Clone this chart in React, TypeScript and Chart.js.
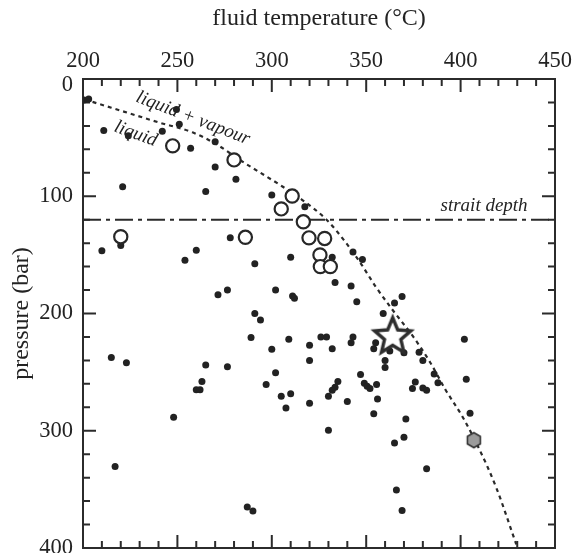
import React, { useEffect, useRef } from "react";
import { Chart, registerables } from "chart.js";
Chart.register(...registerables);

const FONT = '"Liberation Serif", "Times New Roman", serif';
const INK = "#232323";

// small black dots: temperature (°C) / pressure (bar)
const dotT = [200.5, 203, 211, 224, 221, 242, 249.5, 251, 257, 270, 270, 281, 265, 300, 317.5,
  210, 220, 254, 260, 278, 291, 310, 271.5, 276.5, 302, 311, 312, 343, 348, 332, 333.5, 342,
  345, 369, 365, 359, 294, 291, 309, 326, 329, 343, 320, 320, 332, 342, 354, 355, 362.5, 370,
  378, 380, 360, 360, 386, 388, 402, 403, 405, 347, 349, 350.5, 352, 355.5, 335, 333.5, 332, 330,
  305, 310, 307.5, 320, 340, 356, 354, 374.5, 376, 380, 382, 330, 371, 370, 365, 382, 366, 369,
  300, 302, 297, 215, 223, 248, 217, 260, 262, 263, 265, 276.5, 289, 287, 290];
const dotP = [18, 17, 44, 48.5, 92, 44.5, 26, 38.5, 59, 53.5, 75, 85.5, 96, 99, 109,
  146.5, 142, 154.5, 146, 135.5, 157.5, 152, 184, 180, 180, 185, 187, 147.5, 154, 152, 173.5, 176.5,
  190, 185.5, 191, 200, 205.5, 200, 222, 220, 220, 220, 227, 240, 230, 225, 230, 225, 232, 233.5,
  233, 240, 240, 246, 251.5, 259, 222, 256, 285, 252, 259.5, 262, 264, 260.5, 258, 263, 265.5, 270.5,
  270.5, 268.5, 280.5, 276.5, 275, 273, 285.5, 264, 258.5, 263.5, 265.5, 299.5, 290, 305.5, 310.5, 332.5, 350.5, 368,
  230.5, 250.5, 260.5, 237.5, 242, 288.5, 330.5, 265, 265, 258, 244, 245.5, 220.5, 365, 368.5];

// open circles
const circT = [247.5, 280, 310.8, 305, 316.7, 220, 286, 319.7, 328, 325.5, 325.7, 331];
const circP = [57, 69, 99.8, 110.8, 121.8, 134.5, 135, 135.5, 136, 150, 160, 160];

// star and hexagon
const starT = [364];
const starP = [219];
const hexT = [407];
const hexP = [308];

// boiling curve (liquid / liquid + vapour boundary)
const curveT = [201, 215, 228, 240, 258, 271, 283, 294, 304, 316, 329, 338, 347, 355, 364, 375, 384, 392, 401, 410, 419, 429.5];
const curveP = [17.5, 24.5, 31, 37, 45.5, 56, 69, 80, 90, 103, 120, 137, 157, 177, 197, 220, 242, 265, 288, 316, 349, 397];

// strait depth line
const straitT = [200, 450];
const straitP = [120, 120];

// x/y tick label values
const xTicks = [200, 250, 300, 350, 400, 450];
const yTicks = [0, 100, 200, 300, 400];

const notes = [
  { text: "liquid + vapour", t: 258.3, p: 33.5, angle: 21, align: "center" },
  { text: "liquid", t: 227.9, p: 46.9, angle: 20, align: "center" },
  { text: "strait depth", t: 435.5, p: 112.5, angle: 0, align: "right" },
];

const zip = (a: number[], b: number[]) => a.map((v, i) => ({ x: v, y: b[i] }));

function makeStar(): HTMLCanvasElement {
  const c = document.createElement("canvas");
  c.width = 48; c.height = 48;
  const g = c.getContext("2d")!;
  const R = 19, r = 8.6, cx = 24, cy = 25;
  g.beginPath();
  for (let i = 0; i < 10; i++) {
    const rad = i % 2 === 0 ? R : r;
    const a = -Math.PI / 2 + (i * Math.PI) / 5;
    const x = cx + rad * Math.cos(a), y = cy + rad * Math.sin(a);
    if (i === 0) g.moveTo(x, y); else g.lineTo(x, y);
  }
  g.closePath();
  g.fillStyle = "#ffffff";
  g.fill();
  g.lineWidth = 3.4;
  g.lineJoin = "miter";
  g.strokeStyle = "#2e2e2e";
  g.stroke();
  return c;
}

function makeHex(): HTMLCanvasElement {
  const c = document.createElement("canvas");
  c.width = 20; c.height = 20;
  const g = c.getContext("2d")!;
  g.beginPath();
  for (let i = 0; i < 6; i++) {
    const a = -Math.PI / 2 + (i * Math.PI) / 3;
    const x = 10 + 7.5 * Math.cos(a), y = 10 + 7.5 * Math.sin(a);
    if (i === 0) g.moveTo(x, y); else g.lineTo(x, y);
  }
  g.closePath();
  g.fillStyle = "#9b9b9b";
  g.fill();
  g.lineWidth = 1.6;
  g.strokeStyle = "#333333";
  g.stroke();
  return c;
}

const framePlugin = {
  id: "frame",
  beforeDatasetsDraw(chart: any) {
    const { ctx, chartArea: a, scales } = chart;
    const xs = scales.x, ys = scales.y;
    ctx.save();
    ctx.strokeStyle = "#2b2b2b";
    ctx.lineWidth = 2;
    ctx.strokeRect(a.left, a.top, a.right - a.left, a.bottom - a.top);
    ctx.beginPath();
    for (let t = 200; t <= 450; t += 10) {
      const px = xs.getPixelForValue(t);
      const len = t % 50 === 0 ? 13 : 7;
      ctx.moveTo(px, a.top); ctx.lineTo(px, a.top + len);
      ctx.moveTo(px, a.bottom); ctx.lineTo(px, a.bottom - len);
    }
    for (let p = 0; p <= 400; p += 20) {
      const py = ys.getPixelForValue(p);
      const len = p % 100 === 0 ? 13 : 7;
      ctx.moveTo(a.left, py); ctx.lineTo(a.left + len, py);
      ctx.moveTo(a.right, py); ctx.lineTo(a.right - len, py);
    }
    ctx.stroke();
    ctx.fillStyle = INK;
    ctx.font = `italic 19px ${FONT}`;
    for (const n of notes) {
      const px = xs.getPixelForValue(n.t), py = ys.getPixelForValue(n.p);
      ctx.save();
      ctx.translate(px, py);
      ctx.rotate((n.angle * Math.PI) / 180);
      ctx.textAlign = n.align as CanvasTextAlign;
      ctx.textBaseline = n.align === "right" ? "alphabetic" : "middle";
      ctx.fillText(n.text, 0, 0);
      ctx.restore();
    }
    ctx.restore();
  },
};

export default function App() {
  const ref = useRef<HTMLCanvasElement>(null);
  useEffect(() => {
    document.body.style.margin = "0";
    const star = makeStar();
    const hex = makeHex();
    const chart = new Chart(ref.current!, {
      type: "scatter",
      data: {
        datasets: [
          {
            label: "star", data: zip(starT, starP), pointStyle: star as any, pointRadius: 20,
            order: 0,
          },
          {
            label: "hex", data: zip(hexT, hexP), pointStyle: hex as any, pointRadius: 8, order: 1,
          },
          {
            label: "circles", data: zip(circT, circP), pointStyle: "circle", pointRadius: 6.6,
            pointBorderWidth: 2.2, pointBorderColor: "#272727", pointBackgroundColor: "#ffffff", order: 2,
          },
          {
            label: "dots", data: zip(dotT, dotP), pointStyle: "circle", pointRadius: 3.5,
            pointBorderWidth: 0, pointBackgroundColor: "#222222", order: 3,
          },
          {
            label: "curve", type: "line" as any, data: zip(curveT, curveP), showLine: true,
            borderColor: "#2a2a2a", borderWidth: 2.2, borderDash: [4, 4], pointRadius: 0,
            cubicInterpolationMode: "monotone", fill: false, order: 4,
          },
          {
            label: "strait", type: "line" as any, data: zip(straitT, straitP), showLine: true,
            borderColor: "#2a2a2a", borderWidth: 2, borderDash: [18, 5, 4, 5], pointRadius: 0,
            fill: false, order: 5,
          },
        ],
      },
      options: {
        animation: false,
        responsive: false,
        devicePixelRatio: 1,
        layout: { autoPadding: false, padding: { top: 0, left: 0, right: 18, bottom: 5 } },
        plugins: { legend: { display: false }, tooltip: { enabled: false } },
        scales: {
          x: {
            type: "linear", position: "top", min: 200, max: 450,
            afterBuildTicks: (s: any) => { s.ticks = xTicks.map((v) => ({ value: v })); },
            ticks: { font: { family: FONT, size: 22.5, lineHeight: 1 }, color: INK, padding: 7, maxRotation: 0, autoSkip: false },
            grid: { display: false, drawTicks: false },
            border: { display: false },
            title: {
              display: true, text: "fluid temperature (°C)", color: INK,
              font: { family: FONT, size: 24, lineHeight: 1 }, padding: { top: 7, bottom: 0 },
            },
            afterFit: (s: any) => { s.height = 79; s.paddingLeft = 0; s.paddingRight = 0; },
          },
          y: {
            type: "linear", position: "left", reverse: true, min: 0, max: 400,
            afterBuildTicks: (s: any) => { s.ticks = yTicks.map((v) => ({ value: v })); },
            ticks: {
              callback: (v: any) => (v === 0 ? ["", "0"] : String(v)),
              font: (c: any) => ({
                family: FONT, size: 22.5,
                lineHeight: c && c.tick && c.tick.value === 0 ? 0.55 : 1,
              }),
              color: INK, padding: 10, autoSkip: false,
            },
            grid: { display: false, drawTicks: false },
            border: { display: false },
            title: {
              display: true, text: "pressure (bar)", color: INK,
              font: { family: FONT, size: 24, lineHeight: 1 }, padding: { top: 10, bottom: 0 },
            },
            afterFit: (s: any) => { s.width = 83; s.paddingTop = 0; s.paddingBottom = 0; },
          },
        },
      },
      plugins: [framePlugin],
    });
    return () => chart.destroy();
  }, []);
  return (
    <div style={{ position: "absolute", left: 0, top: 0, width: 573, height: 553, background: "#fff" }}>
      <canvas ref={ref} width={573} height={553} style={{ display: "block" }} />
    </div>
  );
}
